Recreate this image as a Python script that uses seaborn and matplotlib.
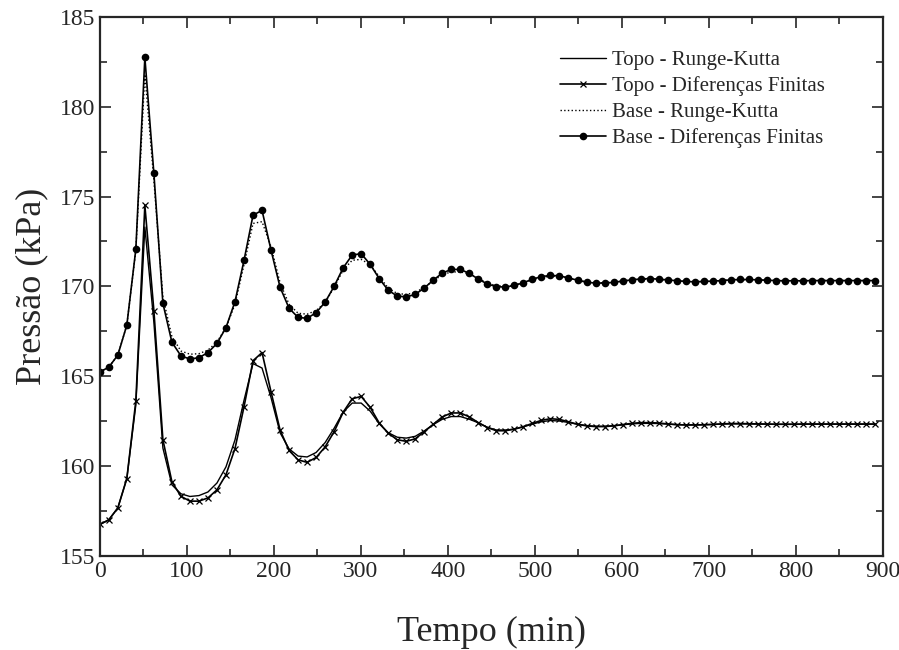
import numpy as np
import pandas as pd
import matplotlib
matplotlib.use("Agg")
import matplotlib.pyplot as plt
from matplotlib.ticker import MultipleLocator
import seaborn as sns

# sample interval of the simulation output (min)
step = 10.36
tempo = np.arange(87) * step

topo_df = [156.74, 157.0, 157.66, 159.3, 163.62, 174.5, 168.65, 161.46, 159.12, 158.31,
           158.04, 158.04, 158.22, 158.67, 159.51, 160.97, 163.29, 165.86, 166.31, 164.12,
           162.0, 160.86, 160.34, 160.2, 160.47, 161.06, 161.91, 162.99, 163.74, 163.87,
           163.26, 162.39, 161.82, 161.46, 161.37, 161.51, 161.91, 162.32, 162.73, 162.95,
           162.95, 162.73, 162.41, 162.14, 161.96, 161.96, 162.05, 162.19, 162.37, 162.54,
           162.63, 162.59, 162.46, 162.32, 162.23, 162.19, 162.19, 162.23, 162.3, 162.37,
           162.41, 162.41, 162.39, 162.34, 162.3, 162.28, 162.28, 162.29, 162.31, 162.34,
           162.36, 162.36, 162.35, 162.34, 162.33, 162.32, 162.32, 162.32, 162.33, 162.33,
           162.33, 162.33, 162.33, 162.33, 162.33, 162.33, 162.33]

topo_rk = [156.74, 157.0, 157.66, 159.3, 163.4, 173.3, 168.0, 161.0, 158.95, 158.45,
           158.3, 158.35, 158.55, 159.05, 159.95, 161.45, 163.65, 165.7, 165.45, 163.8,
           161.85, 160.95, 160.55, 160.5, 160.75, 161.3, 162.1, 163.0, 163.5, 163.5,
           163.05, 162.35, 161.85, 161.6, 161.55, 161.65, 161.95, 162.3, 162.6, 162.75,
           162.75, 162.6, 162.4, 162.15, 162.0, 162.0, 162.05, 162.18, 162.33, 162.46,
           162.53, 162.5, 162.42, 162.32, 162.25, 162.21, 162.21, 162.24, 162.29, 162.34,
           162.37, 162.37, 162.36, 162.33, 162.3, 162.29, 162.29, 162.3, 162.31, 162.33,
           162.34, 162.34, 162.34, 162.33, 162.33, 162.32, 162.32, 162.32, 162.33, 162.33,
           162.33, 162.33, 162.33, 162.33, 162.33, 162.33, 162.33]

base_df = [165.23, 165.5, 166.17, 167.84, 172.07, 182.74, 176.29, 169.06, 166.89, 166.13,
           165.95, 166.03, 166.31, 166.82, 167.7, 169.15, 171.44, 173.96, 174.23, 172.01,
           169.95, 168.78, 168.27, 168.22, 168.53, 169.12, 170.0, 171.03, 171.74, 171.82,
           171.22, 170.43, 169.78, 169.46, 169.41, 169.55, 169.91, 170.34, 170.74, 170.94,
           170.94, 170.72, 170.4, 170.13, 169.98, 169.96, 170.05, 170.2, 170.4, 170.54,
           170.61, 170.58, 170.47, 170.34, 170.23, 170.18, 170.18, 170.22, 170.29, 170.36,
           170.41, 170.43, 170.4, 170.36, 170.31, 170.27, 170.25, 170.27, 170.29, 170.32,
           170.36, 170.38, 170.38, 170.36, 170.34, 170.32, 170.31, 170.31, 170.31, 170.32,
           170.32, 170.32, 170.32, 170.32, 170.32, 170.32, 170.32]

base_rk = [165.23, 165.5, 166.17, 167.84, 172.0, 181.8, 175.9, 169.4, 167.2, 166.4,
           166.22, 166.25, 166.45, 166.9, 167.7, 169.0, 171.2, 173.5, 173.6, 172.2,
           170.2, 169.0, 168.5, 168.45, 168.65, 169.1, 169.95, 170.9, 171.45, 171.5,
           171.2, 170.55, 169.9, 169.6, 169.55, 169.65, 169.95, 170.3, 170.65, 170.8,
           170.8, 170.7, 170.45, 170.18, 170.03, 170.0, 170.07, 170.2, 170.37, 170.5,
           170.56, 170.55, 170.46, 170.35, 170.25, 170.2, 170.2, 170.23, 170.29, 170.35,
           170.39, 170.41, 170.39, 170.35, 170.31, 170.28, 170.26, 170.27, 170.29, 170.32,
           170.35, 170.37, 170.37, 170.36, 170.34, 170.32, 170.31, 170.31, 170.31, 170.32,
           170.32, 170.32, 170.32, 170.32, 170.32, 170.32, 170.32]

labels = ["Topo - Runge-Kutta", "Topo - Diferenças Finitas",
          "Base - Runge-Kutta", "Base - Diferenças Finitas"]

sns.set_style("ticks")
plt.rcParams["font.family"] = ["Liberation Serif", "DejaVu Serif"]

fig = plt.figure(figsize=(8.99, 6.5), dpi=100)
ax = fig.add_axes([0.111, 0.145, 0.871, 0.829])

sns.lineplot(x=tempo, y=topo_rk, ax=ax, color="black", lw=1.0, label=labels[0])
sns.lineplot(x=tempo, y=topo_df, ax=ax, color="black", lw=1.2, marker="x",
             markersize=5, markeredgewidth=0.9, markeredgecolor="black", label=labels[1])
sns.lineplot(x=tempo, y=base_rk, ax=ax, color="black", lw=1.0, linestyle=":", label=labels[2])
sns.lineplot(x=tempo, y=base_df, ax=ax, color="black", lw=1.2, marker="o",
             markersize=5.5, markeredgewidth=0, label=labels[3])

ax.set_xlim(0, 900)
ax.set_ylim(155, 185)
ax.xaxis.set_major_locator(MultipleLocator(100))
ax.xaxis.set_minor_locator(MultipleLocator(50))
ax.yaxis.set_major_locator(MultipleLocator(5))
ax.yaxis.set_minor_locator(MultipleLocator(2.5))
ax.tick_params(which="both", direction="in", top=True, right=True, labelsize=17, width=1.2)
ax.tick_params(which="major", length=8)
ax.tick_params(which="minor", length=5)
for s in ax.spines.values():
    s.set_linewidth(1.6)

ax.set_xlabel("Tempo (min)", fontsize=26, labelpad=25)
ax.set_ylabel("Pressão (kPa)", fontsize=26, labelpad=8)

ax.legend(loc="upper left", bbox_to_anchor=(0.577, 0.953), frameon=False, fontsize=15,
          handlelength=2.2, handletextpad=0.3, labelspacing=0.3, borderaxespad=0)

fig.savefig("out.png", dpi=100)
